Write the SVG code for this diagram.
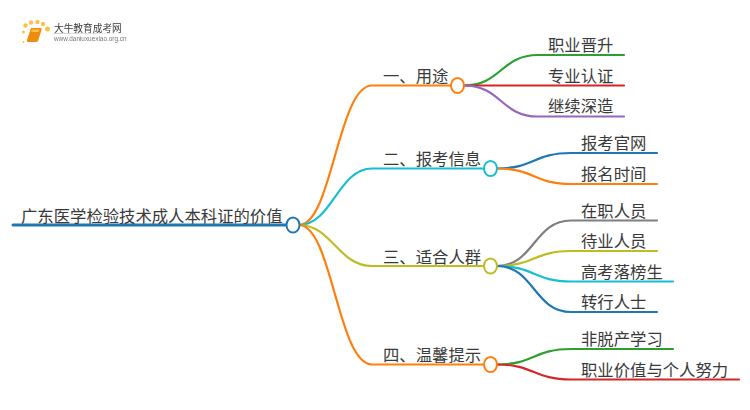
<svg xmlns="http://www.w3.org/2000/svg" width="750" height="410" viewBox="0 0 750 410">
<defs>
<linearGradient id="fade"><stop offset="0" stop-color="#ccc"/><stop offset="1" stop-color="#fff"/></linearGradient>
<filter id="soft" x="-5%" y="-5%" width="110%" height="110%"><feGaussianBlur stdDeviation="0.3"/></filter>
</defs>
<style>
text{font-family:"Noto Sans CJK SC","Liberation Sans",sans-serif;fill:#3a3a3a;font-size:16.35px}
.c{fill:none;stroke-width:2.2px;stroke-linecap:round}
.n{fill:#fff;stroke-width:2px}
.o{stroke:#ff7f0e}.b{stroke:#1f77b4}.t{stroke:#17becf}.y{stroke:#bcbd22}.g{stroke:#2ca02c}.r{stroke:#d62728}.p{stroke:#9467bd}.h{stroke:#7f7f7f}
</style>
<rect width="750" height="410" fill="#fff"/>
<g id="logo" filter="url(#soft)">
<g fill="#fbc24a"><circle cx="23.500" cy="32" r="1.500"/><circle cx="25.500" cy="25.500" r="2.200"/><circle cx="31" cy="22.500" r="2.200"/><circle cx="37.500" cy="22" r="2.200"/><circle cx="43" cy="24" r="2.200"/><circle cx="47.500" cy="29" r="2.500"/><circle cx="23.500" cy="42" r="1"/></g>
<path d="M31 28H41Q42 28 41.500 30L38 41Q37.500 42 36 42H28Q26.500 42 27 40Z" fill="#f08c10"/><path d="M32 29.500H39.500L38.500 32H31.200Z" fill="#fbc24a"/>
<rect x="54" y="33" width="80" height="1" fill="url(#fade)"/>
<text x="54" y="31.500" style="font-size:9.700px">大牛教育成考网</text>
<text x="54" y="41" style="font-size:6.400px;font-family:'Liberation Sans',sans-serif;fill:#777">www.daniuxuexiao.org.cn</text>
</g>
<g id="connectors">
<path class="c b" style="stroke-width:3px" d="M13 225H286"/>
<path class="c o" d="M299 225C332 225 338 85.500 372 85.500H451"/>
<path class="c t" d="M299 225C332 225 338 168.500 372 168.500H484"/>
<path class="c y" d="M299 225C332 225 338 266 372 266H484"/>
<path class="c o" d="M299 225C332 225 338 364.500 372 364.500H484"/>
<path class="c g" d="M464 85.500C501 85.500 501 55 538 55H624"/>
<path class="c r" d="M464 85.500H624"/>
<path class="c p" d="M464 85.500C501 85.500 501 116.500 538 116.500H624"/>
<path class="c b" d="M497 168.500C534 168.500 534 153 571 153H657"/>
<path class="c o" d="M497 168.500C534 168.500 534 184 571 184H657"/>
<path class="c h" d="M497 266C534 266 534 220.500 571 220.500H657"/>
<path class="c y" d="M497 266C534 266 534 251 571 251H657"/>
<path class="c t" d="M497 266C534 266 534 281.500 571 281.500H673"/>
<path class="c b" d="M497 266C534 266 534 312 571 312H657"/>
<path class="c g" d="M497 364.500C534 364.500 534 349 571 349H673"/>
<path class="c r" d="M497 364.500C534 364.500 534 379.500 571 379.500H739"/>
</g>
<g id="root"><text x="21" y="222">广东医学检验技术成人本科证的价值</text><ellipse class="n b" cx="293" cy="225" rx="6.500" ry="7.500"/></g>
<g id="n1"><text x="383" y="82">一、用途</text><ellipse class="n o" cx="457.500" cy="85.500" rx="6.500" ry="7.500"/></g>
<g id="n2"><text x="383" y="165">二、报考信息</text><ellipse class="n t" cx="490.500" cy="168.500" rx="6.500" ry="7.500"/></g>
<g id="n3"><text x="383" y="262.500">三、适合人群</text><ellipse class="n y" cx="490.500" cy="266" rx="6.500" ry="7.500"/></g>
<g id="n4"><text x="383" y="361">四、温馨提示</text><ellipse class="n o" cx="490.500" cy="364.500" rx="6.500" ry="7.500"/></g>
<g id="n1a"><text x="548" y="51">职业晋升</text></g>
<g id="n1b"><text x="548" y="81.500">专业认证</text></g>
<g id="n1c"><text x="548" y="112">继续深造</text></g>
<g id="n2a"><text x="581" y="149">报考官网</text></g>
<g id="n2b"><text x="581" y="180">报名时间</text></g>
<g id="n3a"><text x="581" y="216.500">在职人员</text></g>
<g id="n3b"><text x="581" y="247">待业人员</text></g>
<g id="n3c"><text x="581" y="277.500">高考落榜生</text></g>
<g id="n3d"><text x="581" y="308">转行人士</text></g>
<g id="n4a"><text x="581" y="345">非脱产学习</text></g>
<g id="n4b"><text x="581" y="375.500">职业价值与个人努力</text></g>
</svg>
